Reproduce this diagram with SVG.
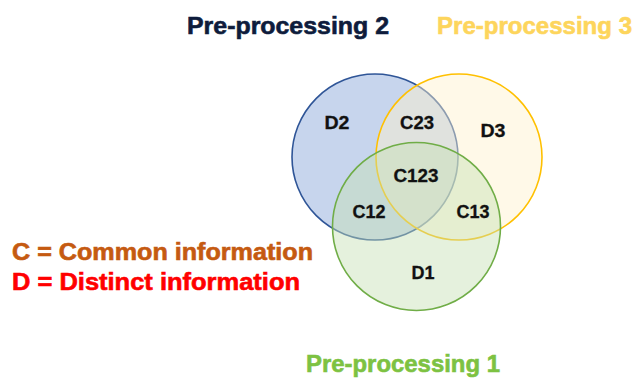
<svg xmlns="http://www.w3.org/2000/svg" width="638" height="378" viewBox="0 0 638 378">
<style>
text{font-family:"Liberation Sans",Arial,sans-serif;font-weight:bold}
.lbl{font-size:18px;fill:#111;stroke:#111;stroke-width:0.3;text-anchor:middle}
.ttl{font-size:24px;stroke-width:0.6}
.leg{font-size:23px;stroke-width:0.6}
.c{stroke-width:1.6}
</style>
<rect width="638" height="378" fill="#fff"/>
<g id="set2"><circle class="c" cx="375" cy="157" r="83" fill="#b4c7e7" fill-opacity="0.75" stroke="#2f5597"/></g>
<g id="set3"><circle class="c" cx="459" cy="157" r="83" fill="#fff2cc" fill-opacity="0.45" stroke="#ffc000"/></g>
<g id="set1"><circle class="c" cx="416.5" cy="226.5" r="84" fill="#c5e0b4" fill-opacity="0.45" stroke="#70ad47"/></g>
<g id="labels">
<text class="lbl" x="337" y="129" textLength="25" lengthAdjust="spacingAndGlyphs">D2</text>
<text class="lbl" x="417" y="129" textLength="34" lengthAdjust="spacingAndGlyphs">C23</text>
<text class="lbl" x="493" y="137" textLength="25" lengthAdjust="spacingAndGlyphs">D3</text>
<text class="lbl" x="416" y="182" textLength="45" lengthAdjust="spacingAndGlyphs">C123</text>
<text class="lbl" x="369" y="218" textLength="33" lengthAdjust="spacingAndGlyphs">C12</text>
<text class="lbl" x="473" y="218" textLength="33" lengthAdjust="spacingAndGlyphs">C13</text>
<text class="lbl" x="423" y="279" textLength="23" lengthAdjust="spacingAndGlyphs">D1</text>
</g>
<g id="titles">
<text class="ttl" x="187" y="34" fill="#0e1c3c" stroke="#0e1c3c" textLength="202" lengthAdjust="spacingAndGlyphs">Pre-processing 2</text>
<text class="ttl" x="437" y="34" fill="#fdd55c" stroke="#fdd55c" textLength="195" lengthAdjust="spacingAndGlyphs">Pre-processing 3</text>
<text class="ttl" x="306" y="372" fill="#7dc242" stroke="#7dc242" font-size="23" textLength="194" lengthAdjust="spacingAndGlyphs">Pre-processing 1</text>
</g>
<g id="legend">
<text class="leg" x="12" y="260" fill="#c55a11" stroke="#c55a11" textLength="301" lengthAdjust="spacingAndGlyphs">C = Common information</text>
<text class="leg" x="12" y="290" fill="#ff0000" stroke="#ff0000" textLength="288" lengthAdjust="spacingAndGlyphs">D = Distinct information</text>
</g>
</svg>
